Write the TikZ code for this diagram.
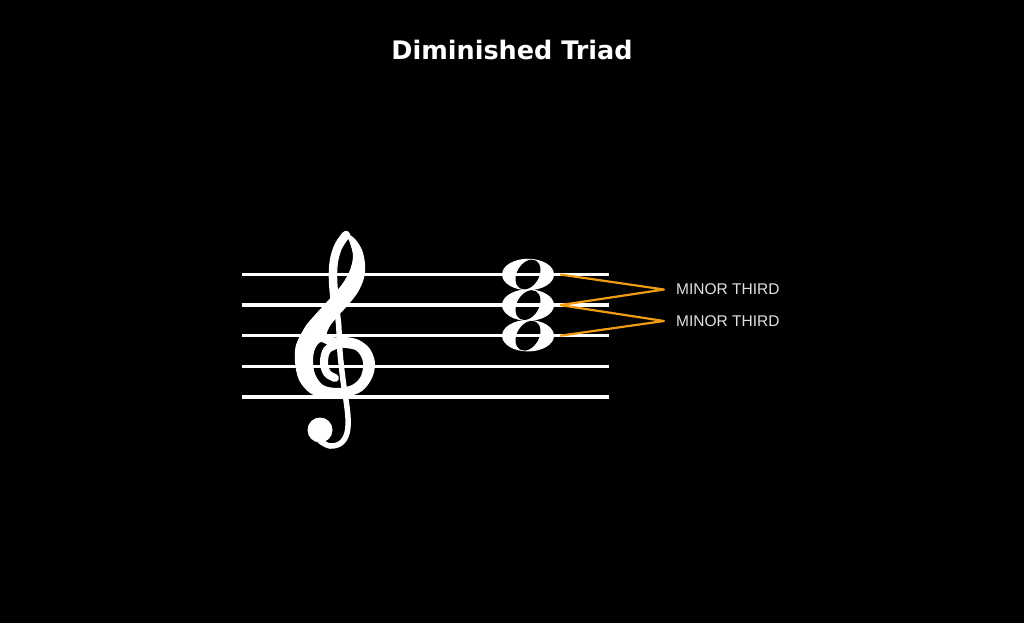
\documentclass[tikz,border=0pt]{standalone}
\usepackage{fontspec}
\usetikzlibrary{shapes.geometric}
\newfontfamily\titlefont{DejaVu Sans}
\newfontfamily\labelfont{Liberation Sans}
\definecolor{thirdorange}{RGB}{240,155,20}
\definecolor{labelgrey}{RGB}{225,225,225}
\begin{document}
\begin{tikzpicture}[x=1pt,y=-1pt,
  staffline/.style={white,line width=3.3},
  wholenote/.style={ellipse,fill=white,minimum width=52,minimum height=31.5,inner sep=0},
  thirdline/.style={thirdorange,line width=2.2,line join=round},
  thirdlabel/.style={labelgrey,anchor=west,inner sep=0,font=\labelfont\fontsize{15.5}{18}\selectfont}]
\fill[black] (0,0) rectangle (1024,623);
\node[white,font=\titlefont\bfseries\fontsize{25.5}{30}\selectfont] (title) at (512,50) {Diminished Triad};
% treble clef: loop, diagonal and bowl
\fill[white,even odd rule] plot[smooth cycle,tension=0.55] coordinates {
  (346,233) (355,239) (362,250) (365,264) (364,278) (358,292) (348,305)
  (338,316) (330,326) (327,335) (336,337.5) (346,337) (359,340) (370,349)
  (375,363) (372,378) (362,391) (345,397.5) (326,398.5) (310,393) (299,380)
  (295,362) (296,345) (305,327) (314,316) (324,305) (334,294) (343,283)
  (350,270) (353,256) (350,243)}
  plot[smooth cycle,tension=0.55] coordinates {
  (321,342) (332,347) (346,348) (357,351) (363,362) (361,376) (352,385)
  (337,388) (323,385) (315,374) (313,360) (315,349)};
% curl, stem and ball
\draw[white,line width=8,line cap=round] plot[smooth,tension=0.6] coordinates {
  (336,345) (327,350) (324,362) (327,373) (335,378)};
\draw[white,line width=8.5,line cap=round] plot[smooth,tension=0.6] coordinates {
  (346,235) (339,245) (334.5,258) (333,272) (333.5,288) (335.5,305)};
\draw[white,line width=5.5,line cap=round] plot[smooth,tension=0.6] coordinates {
  (335.5,303) (338.5,323) (340,352) (343,380) (346,400) (348,418) (347,433)
  (341,443) (330,446) (320,441)};
\fill[white] (320,430) circle[radius=12.5];
% chord
\node[wholenote] (n1) at (528,274.5) {};
\node[wholenote] (n2) at (528,305.1) {};
\node[wholenote] (n3) at (528,335.7) {};
\foreach \n in {n1,n2,n3}
  \fill[black,rotate around={-30:(\n)}] (\n) ellipse[x radius=11,y radius=16];
% staff
\foreach \y in {274.5,305.1,335.7,366.3,396.9}
  \draw[staffline] (242,\y) -- (609,\y);
% thirds
\node[thirdlabel] (third1) at (676,289.5) {MINOR THIRD};
\node[thirdlabel] (third2) at (676,321) {MINOR THIRD};
\draw[thirdline] ([xshift=6]n1.east) -- ([xshift=-12]third1.west) -- ([xshift=6]n2.east);
\draw[thirdline] ([xshift=6]n2.east) -- ([xshift=-12]third2.west) -- ([xshift=6]n3.east);
\end{tikzpicture}
\end{document}
